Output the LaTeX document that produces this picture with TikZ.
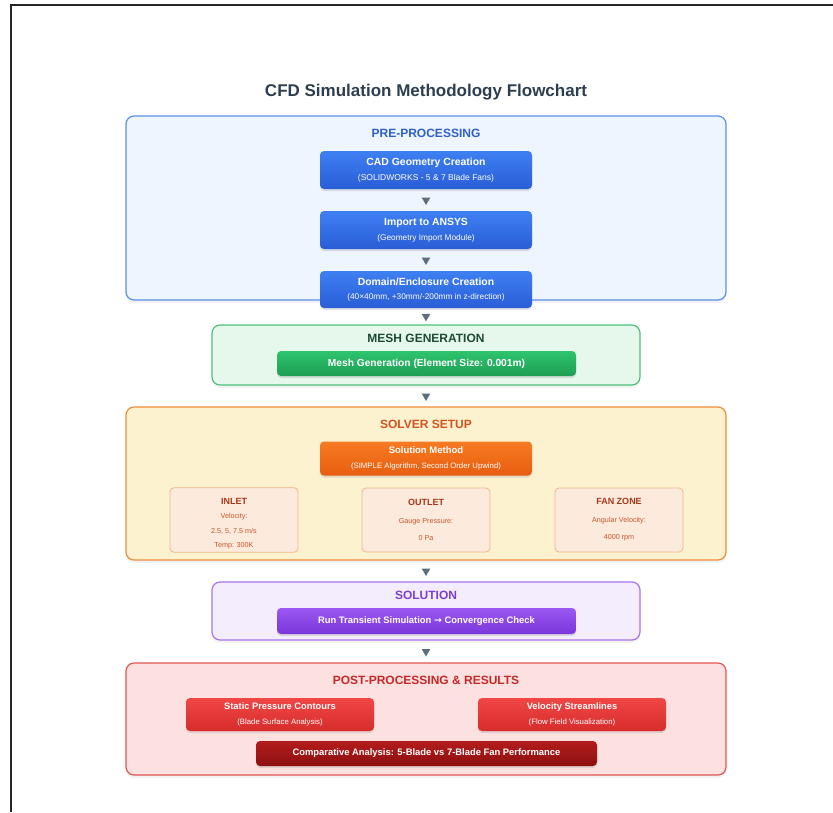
\documentclass[tikz,border=0pt]{standalone}
\usepackage{fontspec}
\setmainfont{Liberation Sans}
\newfontfamily\arrowfont{DejaVu Sans}
\usetikzlibrary{positioning,shapes.geometric,shadows}

\definecolor{titlecol}{HTML}{2C3E50}
\definecolor{preline}{HTML}{5A8FE6}
\definecolor{prebg}{HTML}{EEF5FE}
\definecolor{prelabel}{HTML}{2F5FC8}
\definecolor{meshline}{HTML}{4CC07A}
\definecolor{meshbg}{HTML}{E6F8EC}
\definecolor{meshlabel}{HTML}{1E4A30}
\definecolor{solvline}{HTML}{F08C38}
\definecolor{solvbg}{HTML}{FDF2D0}
\definecolor{solvlabel}{HTML}{D4531E}
\definecolor{soluline}{HTML}{A874EC}
\definecolor{solubg}{HTML}{F4EDFD}
\definecolor{solulabel}{HTML}{7B3FD6}
\definecolor{postline}{HTML}{E05555}
\definecolor{postbg}{HTML}{FDE1E1}
\definecolor{postlabel}{HTML}{C62828}
\definecolor{bcbg}{HTML}{FCEBDD}
\definecolor{bcline}{HTML}{EFB583}
\definecolor{bctext}{HTML}{C8542A}
\definecolor{bctitle}{HTML}{A8361A}
\definecolor{arrowgray}{HTML}{5D6D7E}
\definecolor{blueA}{HTML}{3E80F2}
\definecolor{blueB}{HTML}{2A5DD6}
\definecolor{greenA}{HTML}{2EC46E}
\definecolor{greenB}{HTML}{1F9E55}
\definecolor{orangeA}{HTML}{F77B22}
\definecolor{orangeB}{HTML}{E85D10}
\definecolor{purpleA}{HTML}{9C58F2}
\definecolor{purpleB}{HTML}{7A36D8}
\definecolor{redA}{HTML}{F04646}
\definecolor{redB}{HTML}{D62C2C}
\definecolor{darkredA}{HTML}{B21C1C}
\definecolor{darkredB}{HTML}{8E1010}

% main line, sub line, main size, sub size
\newcommand{\twoline}[4]{\fontsize{#3}{12}\selectfont\bfseries #1\\[2.5pt]\fontsize{#4}{9}\selectfont\mdseries #2}
\newcommand{\bchead}[1]{\fontsize{9}{10}\selectfont\bfseries\color{bctitle}#1}

\begin{document}
\begin{tikzpicture}[x=1pt,y=-1pt,
  stage/.style={draw, rounded corners=8pt, line width=1.2pt, inner sep=0pt,
    drop shadow={opacity=0.10,shadow xshift=0pt,shadow yshift=-3pt}},
  stagelabel/.style={font=\fontsize{12}{14}\selectfont\bfseries},
  stepbox/.style={rounded corners=4pt, text=white, align=center, inner sep=0pt,
    drop shadow={opacity=0.22,shadow xshift=0pt,shadow yshift=-2pt}},
  bluestep/.style={stepbox, top color=blueA, bottom color=blueB,
    minimum width=212pt, minimum height=38pt},
  redstep/.style={stepbox, top color=redA, bottom color=redB,
    minimum width=188pt, minimum height=33pt},
  bcbox/.style={draw=bcline, fill=bcbg, rounded corners=4pt, line width=0.8pt,
    minimum width=128pt, minimum height=64pt, text=bctext, align=center},
  downtri/.style={regular polygon, regular polygon sides=3, shape border rotate=180,
    fill=arrowgray, minimum size=10pt, inner sep=0pt}
]
\useasboundingbox (0,0) rectangle (833,812);
\draw[line width=1.6pt, black!85] (11,812) -- (11,5) -- (833,5);

% Title
\node[font=\fontsize{17}{20}\selectfont\bfseries, text=titlecol] (title) at (426,92) {CFD Simulation Methodology Flowchart};

% Stage boxes
\node[stage, draw=preline, fill=prebg, minimum width=600pt, minimum height=184pt] (prebox) at (426,208) {};
\node[stage, draw=meshline, fill=meshbg, minimum width=428pt, minimum height=60pt] (meshbox) at (426,355) {};
\node[stage, draw=solvline, fill=solvbg, minimum width=600pt, minimum height=153pt] (solvbox) at (426,483.5) {};
\node[stage, draw=soluline, fill=solubg, minimum width=428pt, minimum height=58pt] (solubox) at (426,611) {};
\node[stage, draw=postline, fill=postbg, minimum width=600pt, minimum height=112pt] (postbox) at (426,719) {};

% Stage labels
\node[stagelabel, text=prelabel] (prelbl) at (426,133) {PRE-PROCESSING};
\node[stagelabel, text=meshlabel] (meshlbl) at (426,338) {MESH GENERATION};
\node[stagelabel, text=solvlabel] (solvlbl) at (426,424) {SOLVER SETUP};
\node[stagelabel, text=solulabel] (solulbl) at (426,595) {SOLUTION};
\node[stagelabel, text=postlabel] (postlbl) at (426,680) {POST-PROCESSING \& RESULTS};

% Pre-processing steps
\node[bluestep] (cad) at (426,170) {\twoline{CAD Geometry Creation}{(SOLIDWORKS - 5 \& 7 Blade Fans)}{10.4}{8.5}};
\node[bluestep] (imp) at (426,230) {\twoline{Import to ANSYS}{(Geometry Import Module)}{10.4}{8.3}};
\node[bluestep, minimum height=37pt] (dom) at (426,289.5) {\twoline{Domain/Enclosure Creation}{(40×40mm, +30mm/-200mm in z-direction)}{10.4}{8.3}};

% Mesh
\node[stepbox, top color=greenA, bottom color=greenB,
  minimum width=299pt, minimum height=25pt, font=\fontsize{10.2}{12}\selectfont\bfseries] (mesh) at (426.5,363.5) {Mesh Generation (Element Size: 0.001m)};

% Solver
\node[stepbox, top color=orangeA, bottom color=orangeB,
  minimum width=212pt, minimum height=34pt] (method) at (426,458.5) {\twoline{Solution Method}{(SIMPLE Algorithm, Second Order Upwind)}{9.5}{7.8}};
\node[bcbox, font=\fontsize{7.2}{14.5}\selectfont] (inlet) at (234,520) {\bchead{\rule{0pt}{13pt}INLET}\\Velocity:\\2.5, 5, 7.5 m/s\\Temp: 300K};
\node[bcbox, font=\fontsize{7.2}{17.5}\selectfont] (outlet) at (426,520) {\bchead{OUTLET}\\Gauge Pressure:\\0 Pa};
\node[bcbox, font=\fontsize{7.2}{17.5}\selectfont] (fanzone) at (619,520) {\bchead{FAN ZONE}\\Angular Velocity:\\4000 rpm};

% Solution
\node[stepbox, top color=purpleA, bottom color=purpleB,
  minimum width=299pt, minimum height=26pt, font=\fontsize{9.4}{11}\selectfont\bfseries] (run) at (426.5,621) {Run Transient Simulation {\arrowfont→} Convergence Check};

% Post-processing
\node[redstep] (spc) at (280,714.5) {\twoline{Static Pressure Contours}{(Blade Surface Analysis)}{9.3}{7.8}};
\node[redstep] (vsl) at (572,714.5) {\twoline{Velocity Streamlines}{(Flow Field Visualization)}{9.3}{7.8}};
\node[stepbox, top color=darkredA, bottom color=darkredB,
  minimum width=341pt, minimum height=25pt, font=\fontsize{9.4}{11}\selectfont\bfseries] (comp) at (426.5,753.5) {Comparative Analysis: 5-Blade vs 7-Blade Fan Performance};

% Flow markers
\path (cad.south) -- node[downtri] {} (imp.north);
\path (imp.south) -- node[downtri] {} (dom.north);
\path (dom.south) -- node[downtri] {} (meshbox.north);
\path (meshbox.south) -- node[downtri] {} (solvbox.north);
\path (solvbox.south) -- node[downtri] {} (solubox.north);
\path (solubox.south) -- node[downtri] {} (postbox.north);
\end{tikzpicture}
\end{document}
